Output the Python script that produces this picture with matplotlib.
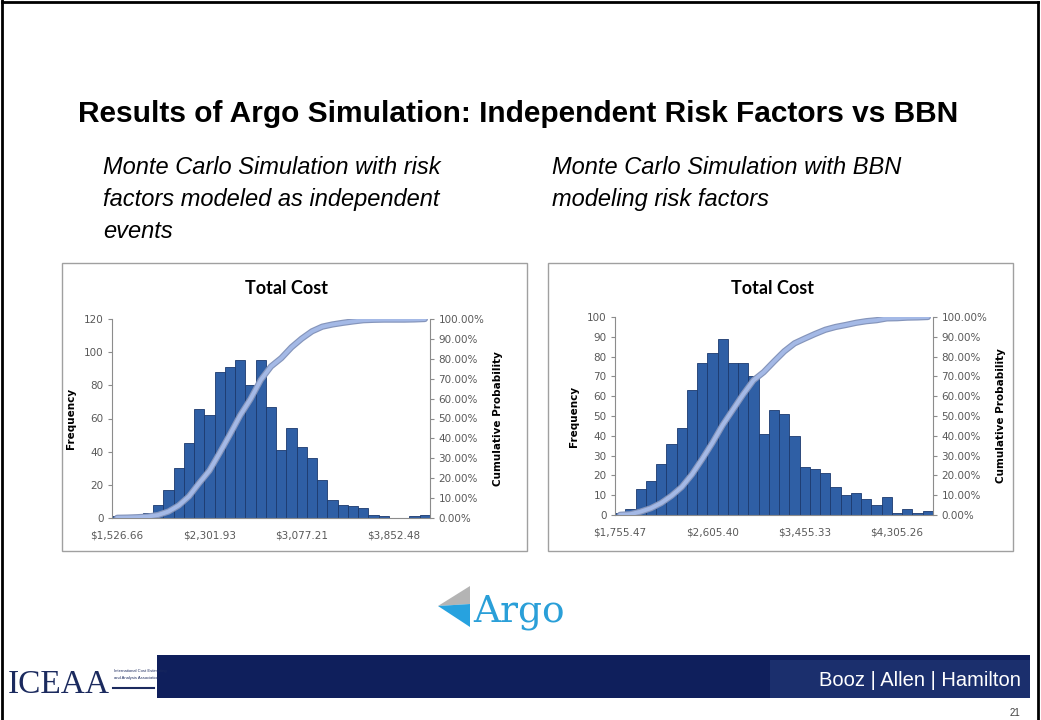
import matplotlib
matplotlib.use('Agg')
import matplotlib.pyplot as plt
import matplotlib.patches as mpatches
from matplotlib.ticker import FuncFormatter
import numpy as np

W, H = 1041, 720

# frequencies (31 bins each)
freq_indep = [1, 1, 2, 3, 8, 17, 30, 45, 66, 62, 88, 91, 95, 80, 95, 67,
              41, 54, 43, 36, 23, 11, 8, 7, 6, 2, 1, 0, 0, 1, 2]
xlabels_indep = ['$1,526.66', '$2,301.93', '$3,077.21', '$3,852.48']

freq_bbn = [1, 3, 13, 17, 26, 36, 44, 63, 77, 82, 89, 77, 77, 70, 41, 53,
            51, 40, 24, 23, 21, 14, 10, 11, 8, 5, 9, 1, 3, 1, 2]
xlabels_bbn = ['$1,755.47', '$2,605.40', '$3,455.33', '$4,305.26']
label_bins = [0, 9, 18, 27]


def rect(x0, y0, x1, y1):
    # pixel box (top-left origin) -> figure fraction
    return [x0 / W, 1 - y1 / H, (x1 - x0) / W, (y1 - y0) / H]


def fx(x):
    return x / W


def fy(y):
    return 1 - y / H


fig = plt.figure(figsize=(W / 100, H / 100), dpi=100)
fig.patch.set_facecolor('white')

# slide frame
for xs, ys in [([2, 2], [0, 720]), ([2, 1038], [2, 2]), ([1038, 1038], [2, 720])]:
    fig.add_artist(plt.Line2D([fx(v) for v in xs], [fy(v) for v in ys], color='black', lw=2))

fig.text(fx(78), fy(122), 'Results of Argo Simulation: Independent Risk Factors vs BBN',
         family='Liberation Sans', weight='bold', fontsize=21.5, va='baseline', ha='left')

sub_left = ['Monte Carlo Simulation with risk', 'factors modeled as independent', 'events']
sub_right = ['Monte Carlo Simulation with BBN', 'modeling risk factors']
for i, line in enumerate(sub_left):
    fig.text(fx(103), fy(174 + 32 * i), line, family='Liberation Sans', style='italic',
             fontsize=17, va='baseline')
for i, line in enumerate(sub_right):
    fig.text(fx(552), fy(174 + 32 * i), line, family='Liberation Sans', style='italic',
             fontsize=17, va='baseline')


def draw_chart(box, plot, freq, xlabels, ymax, ystep):
    bx = mpatches.Rectangle((fx(box[0]), fy(box[3])), (box[2] - box[0]) / W, (box[3] - box[1]) / H,
                            transform=fig.transFigure, facecolor='white', edgecolor='#a0a0a0',
                            lw=1, zorder=-5)
    fig.add_artist(bx)
    fig.text(fx((box[0] + box[2]) / 2 - 8), fy(288), 'Total Cost', family='Lato', weight='bold',
             fontsize=13, ha='center', va='center')

    ax = fig.add_axes(rect(*plot))
    ax.patch.set_alpha(0)
    x = np.arange(len(freq))
    ax.bar(x, freq, width=1.0, color='#2f5fa5', edgecolor='#1c3a6e', linewidth=0.6, zorder=2)
    ax.set_xlim(-0.5, len(freq) - 0.5)
    ax.set_ylim(0, ymax)
    ax.set_yticks(np.arange(0, ymax + 1, ystep))
    ax.set_xticks(label_bins)
    ax.set_xticklabels(xlabels)
    for s in ['top', 'right']:
        ax.spines[s].set_visible(False)
    for s in ['left', 'bottom']:
        ax.spines[s].set_color('#8c8c8c')
        ax.spines[s].set_linewidth(0.8)
    ax.tick_params(axis='y', length=3, color='#8c8c8c', labelsize=7.5, labelcolor='#595959', pad=3)
    ax.tick_params(axis='x', length=0, labelsize=7.5, labelcolor='#595959', pad=9)
    ax.set_ylabel('Frequency', fontsize=7.5, weight='bold', labelpad=6)

    ax2 = ax.twinx()
    cum = np.cumsum(freq) / np.sum(freq)
    ax2.plot(x, cum, color='#8595bb', lw=4.5, solid_capstyle='round', zorder=3)
    ax2.plot(x, cum, color='#a4b9e6', lw=2.8, solid_capstyle='round', zorder=4)
    ax2.set_ylim(0, 1)
    ax2.set_yticks(np.arange(0, 1.001, 0.1))
    ax2.yaxis.set_major_formatter(FuncFormatter(lambda v, p: f'{v * 100:.2f}%'))
    for s in ['top', 'left', 'bottom']:
        ax2.spines[s].set_visible(False)
    ax2.spines['right'].set_color('#8c8c8c')
    ax2.spines['right'].set_linewidth(0.8)
    ax2.tick_params(axis='y', length=3, color='#8c8c8c', labelsize=7.5, labelcolor='#595959', pad=3)
    ax2.set_ylabel('Cumulative Probability', fontsize=7.5, weight='bold', labelpad=6)


draw_chart((62, 263, 527, 551), (112, 319, 430, 518), freq_indep, xlabels_indep, 120, 20)
draw_chart((548, 263, 1013, 551), (615, 317, 933, 515), freq_bbn, xlabels_bbn, 100, 10)

# Argo logo
fig.add_artist(mpatches.Polygon([(fx(438), fy(606)), (fx(470), fy(586)), (fx(470), fy(604))],
                                closed=True, transform=fig.transFigure, facecolor='#b4b4b4', edgecolor='none'))
fig.add_artist(mpatches.Polygon([(fx(438), fy(606)), (fx(470), fy(604)), (fx(470), fy(627))],
                                closed=True, transform=fig.transFigure, facecolor='#27a2df', edgecolor='none'))
fig.text(fx(473), fy(621), 'Argo', family='DejaVu Serif', fontsize=27, color='#2a9fd8', va='baseline')

# bottom band
fig.add_artist(mpatches.Rectangle((fx(157), fy(698)), 873 / W, 43 / H, transform=fig.transFigure,
                                  facecolor='#0f1f5c', edgecolor='none'))
fig.add_artist(mpatches.Rectangle((fx(770), fy(698)), 260 / W, 38 / H, transform=fig.transFigure,
                                  facecolor='#1b2f6d', edgecolor='none'))
fig.text(fx(920), fy(680), 'Booz | Allen | Hamilton', family='Liberation Sans', fontsize=14.5,
         color='white', ha='center', va='center')

# ICEAA logo
fig.text(fx(8), fy(693), 'ICEAA', family='Liberation Serif', fontsize=24, color='#1b2a5e', va='baseline')
fig.text(fx(114), fy(672), 'International Cost Estimating', family='Liberation Sans', fontsize=3.0,
         color='#1b2a5e', va='baseline')
fig.text(fx(114), fy(679), 'and Analysis Association', family='Liberation Sans', fontsize=3.0,
         color='#1b2a5e', va='baseline')
fig.add_artist(plt.Line2D([fx(113), fx(154)], [fy(688), fy(688)], color='#1b2a5e', lw=1.5))

fig.text(fx(1015), fy(716), '21', family='Liberation Sans', fontsize=7, color='#404040', ha='center',
         va='baseline')

fig.savefig('out.png', dpi=100)
